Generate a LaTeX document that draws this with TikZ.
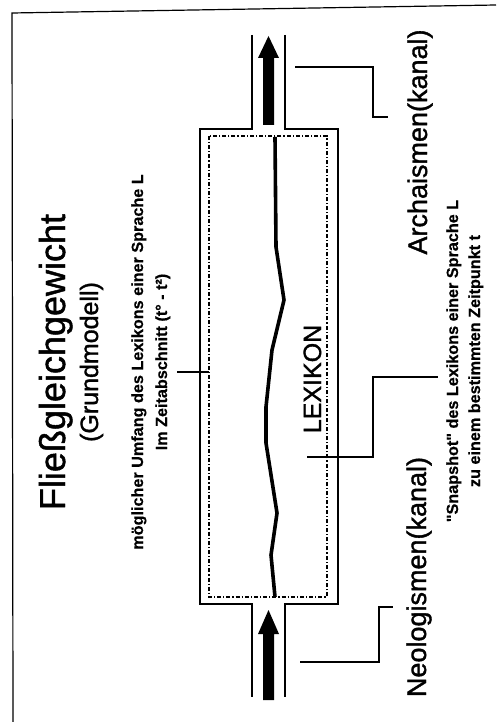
\documentclass[tikz,border=0pt]{standalone}
\usepackage{fontspec}
\setmainfont{Liberation Sans}
\newfontfamily\heavyreg{Liberation Sans}[FakeBold=1.3]
\newfontfamily\heavybold{Liberation Sans Bold}[FakeBold=0.5]
\begin{document}
\begin{tikzpicture}[x=1pt,y=-1pt,
  wall/.style={line width=1.6pt},
  leader/.style={line width=1.2pt},
  dotrect/.style={line width=1.1pt, dash pattern=on 4pt off 2pt on 1.2pt off 2pt},
  vtext/.style={rotate=90, anchor=base, inner sep=0pt},
  titlefont/.style={vtext, font=\heavyreg\fontsize{36}{40}\selectfont},
  subfont/.style={vtext, font=\heavyreg\fontsize{25}{28}\selectfont},
  bigfont/.style={vtext, font=\heavyreg\fontsize{27}{30}\selectfont},
  lexfont/.style={vtext, font=\heavyreg\fontsize{25}{28}\selectfont},
  smallfont/.style={vtext, font=\heavybold\fontsize{16.2}{20}\selectfont}
]
\useasboundingbox (0,0) rectangle (496,722);
\fill[white] (0,0) rectangle (496,722);
% frame
\draw[line width=1.2pt] (496,5) -- (12,13) -- (13,722);

% outer box with channels
\draw[wall] (252,35) -- (252,129) -- (200,129) -- (200,604) -- (252,604) -- (252,697);
\draw[wall] (285,35) -- (285,129) -- (338,129) -- (338,604) -- (285,604) -- (285,697);

% dotted inner rectangle
\draw[dotrect] (209,136) rectangle (327,597);

% arrows
\fill (263,125) -- (263,58) -- (258,58) -- (268.5,36) -- (279,58) -- (274,58) -- (274,125) -- cycle;
\fill (263,700) -- (263,634) -- (258,634) -- (268.5,610) -- (279,634) -- (274,634) -- (274,700) -- cycle;

% snapshot line
\draw[line width=3.6pt, line join=round] (275,137) -- (276,247) -- (284,300) -- (272,350) -- (266,407) -- (266,443) -- (277,513) -- (271,555) -- (275,597);

% leader coordinates
\coordinate (a0) at (295,67);
\coordinate (a1) at (388,117);
\coordinate (s0) at (307,457);
\coordinate (s1) at (438,377);
\coordinate (n0) at (300,662);
\coordinate (n1) at (393,607);
\coordinate (m0) at (177,372);
\coordinate (m1) at (209,372);

\draw[leader] (a0) -- ++(78,0) |- (a1);
\draw[leader] (s0) -- ++(66,0) |- (s1);
\draw[leader] (n0) -- ++(79,0) |- (n1);
\draw[leader] (m0) -- (m1);

% texts
\node[titlefont] (title) at (65,362) {Fließgleichgewicht};
\node[subfont] (sub) at (98,362) {(Grundmodell)};
\node[smallfont] (umf1) at (143,362) {möglicher Umfang des Lexikons einer Sprache L};
\node[smallfont] (umf2) at (167,362) {Im Zeitabschnitt (t° - t²)};
\node[lexfont] (lex) at (321,379) {LEXIKON};
\node[bigfont] (arch) at (427,142) {Archaismen(kanal)};
\node[bigfont] (neo) at (426,577) {Neologismen(kanal)};
\node[smallfont] (snap1) at (458,361) {"Snapshot" des Lexikons einer Sprache L};
\node[smallfont] (snap2) at (480,361) {zu einem bestimmten Zeitpunkt t};
\end{tikzpicture}
\end{document}
